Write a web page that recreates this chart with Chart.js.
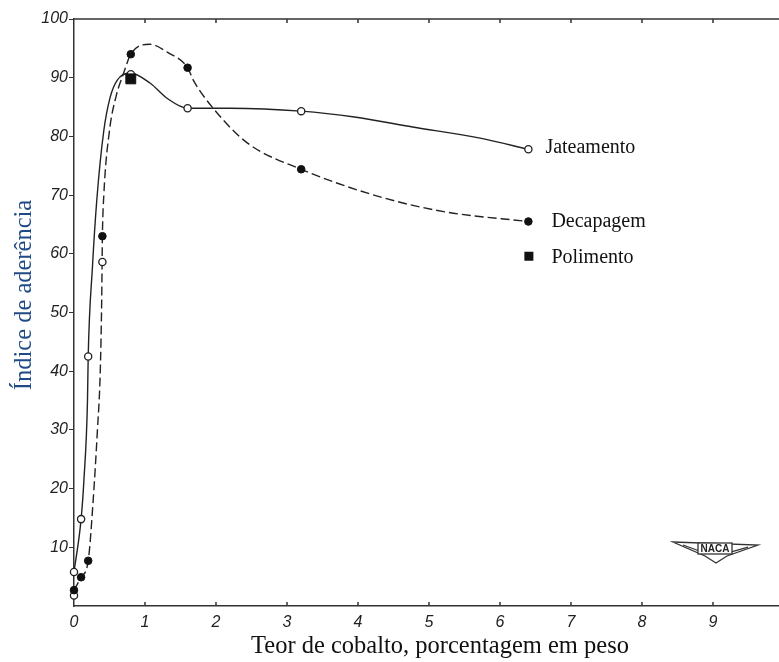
<!DOCTYPE html>
<html>
<head>
<meta charset="utf-8">
<script src="https://cdn.jsdelivr.net/npm/chart.js@4.4.1/dist/chart.umd.min.js"></script>
<style>
  html, body { margin: 0; padding: 0; background: #ffffff; }
  #wrap { width: 779px; height: 662px; position: relative; }
</style>
</head>
<body>
<div id="wrap"><canvas id="chart" width="779" height="662"></canvas></div>
<script>
// Measured points (cobalt %, adherence index)
const jatX = [0, 0, 0.1, 0.2, 0.4, 0.8, 1.6, 3.2, 6.4];
const jatY = [1.8, 5.8, 14.8, 42.5, 58.6, 90.6, 84.8, 84.3, 77.8];
const decX = [0, 0.1, 0.2, 0.4, 0.8, 1.6, 3.2, 6.4];
const decY = [2.7, 4.9, 7.7, 63, 94, 91.7, 74.4, 65.5];
const polX = [0.8];
const polY = [89.8];

// Faired curves
const jatCurveX = [0, 0.1, 0.14, 0.19, 0.2, 0.26, 0.32, 0.42, 0.51, 0.61, 0.79, 1.07, 1.31, 1.6, 2.2, 3.2, 3.95, 4.77, 5.72, 6.4];
const jatCurveY = [5.8, 14.8, 21.5, 35, 42.5, 57.8, 69, 81, 86.7, 89.6, 90.8, 89.1, 86.5, 84.8, 84.8, 84.3, 83.3, 81.6, 79.7, 77.8];
const decCurveX = [0, 0.1, 0.2, 0.27, 0.33, 0.37, 0.39, 0.4, 0.42, 0.5, 0.59, 0.7, 0.8, 1.07, 1.32, 1.6, 1.68, 1.96, 2.44, 3.2, 4.31, 5.25, 6.4];
const decCurveY = [2.7, 4.9, 7.7, 18, 30, 40, 52, 63, 70, 81, 86.7, 90.8, 94, 95.7, 94.3, 91.7, 89.6, 84.8, 78.9, 74.4, 69.7, 67.1, 65.5];

// Axis ticks and labels
const xTickValues = [0, 1, 2, 3, 4, 5, 6, 7, 8, 9];
const yTickValues = [10, 20, 30, 40, 50, 60, 70, 80, 90, 100];
const xTitle = 'Teor de cobalto, porcentagem em peso';
const yTitle = 'Índice de aderência';
const legendNames = ['Jateamento', 'Decapagem', 'Polimento'];

const ink = '#222222';
const toPts = (xs, ys) => xs.map((x, i) => ({ x: x, y: ys[i] }));

const decor = {
    id: 'decor',
    afterDraw(chart) {
        const ctx = chart.ctx;
        const area = chart.chartArea;
        const xs = chart.scales.x;
        const ys = chart.scales.y;
        ctx.save();

        // top frame line with inward ticks, inward ticks on bottom axis
        ctx.strokeStyle = '#333333';
        ctx.lineWidth = 1.5;
        ctx.beginPath();
        ctx.moveTo(area.left, area.top);
        ctx.lineTo(area.right, area.top);
        for (let v = 1; v <= 9; v++) {
            const px = xs.getPixelForValue(v);
            ctx.moveTo(px, area.top);
            ctx.lineTo(px, area.top + 4);
            ctx.moveTo(px, area.bottom);
            ctx.lineTo(px, area.bottom - 4);
        }
        ctx.stroke();

        // axis titles
        ctx.fillStyle = '#111111';
        ctx.font = '24.5px "Liberation Serif"';
        ctx.textAlign = 'center';
        ctx.textBaseline = 'middle';
        ctx.fillText(xTitle, 440, 647);

        ctx.save();
        ctx.translate(25, 295);
        ctx.rotate(-Math.PI / 2);
        ctx.fillStyle = '#1f4a86';
        ctx.fillText(yTitle, 0, 0);
        ctx.restore();

        // in-plot legend
        ctx.fillStyle = '#111111';
        ctx.font = '20px "Liberation Serif"';
        ctx.textAlign = 'left';
        const jx = xs.getPixelForValue(jatX[jatX.length - 1]);
        const jy = ys.getPixelForValue(jatY[jatY.length - 1]);
        ctx.fillText(legendNames[0], jx + 17, jy - 2);
        const dx = xs.getPixelForValue(decX[decX.length - 1]);
        const dy = ys.getPixelForValue(decY[decY.length - 1]);
        ctx.fillText(legendNames[1], dx + 23, dy);
        const py = ys.getPixelForValue(59.5);
        ctx.fillText(legendNames[2], dx + 23, py + 1);
        ctx.fillStyle = '#111111';
        ctx.fillRect(dx - 4, py - 5, 9, 9);

        // NACA wing emblem
        ctx.strokeStyle = '#333333';
        ctx.lineWidth = 1.3;
        ctx.beginPath();
        ctx.moveTo(673, 542);
        ctx.lineTo(758, 545);
        ctx.lineTo(727, 556);
        ctx.lineTo(716, 563);
        ctx.lineTo(705, 556);
        ctx.closePath();
        ctx.stroke();
        ctx.beginPath();
        ctx.moveTo(683, 545);
        ctx.lineTo(705, 553);
        ctx.moveTo(748, 547);
        ctx.lineTo(727, 553);
        ctx.stroke();
        ctx.fillStyle = '#ffffff';
        ctx.fillRect(698, 543, 34, 11);
        ctx.strokeRect(698, 543, 34, 11);
        ctx.fillStyle = '#222222';
        ctx.font = 'bold 10px "Liberation Sans"';
        ctx.textAlign = 'center';
        ctx.fillText('NACA', 715, 549);

        ctx.restore();
    }
};

new Chart(document.getElementById('chart'), {
    type: 'scatter',
    data: {
        datasets: [
            {
                label: 'Jateamento (curva)',
                data: toPts(jatCurveX, jatCurveY),
                showLine: true,
                borderColor: ink,
                borderWidth: 1.4,
                pointRadius: 0,
                cubicInterpolationMode: 'monotone',
                clip: false,
                order: 3
            },
            {
                label: 'Decapagem (curva)',
                data: toPts(decCurveX, decCurveY),
                showLine: true,
                borderColor: ink,
                borderWidth: 1.4,
                borderDash: [9, 4],
                pointRadius: 0,
                cubicInterpolationMode: 'monotone',
                clip: false,
                order: 3
            },
            {
                label: legendNames[0],
                data: toPts(jatX, jatY),
                pointStyle: 'circle',
                pointRadius: 3.6,
                backgroundColor: '#ffffff',
                borderColor: ink,
                borderWidth: 1.3,
                clip: false,
                order: 2
            },
            {
                label: legendNames[1],
                data: toPts(decX, decY),
                pointStyle: 'circle',
                pointRadius: 3.8,
                backgroundColor: '#111111',
                borderColor: '#111111',
                borderWidth: 1,
                clip: false,
                order: 1
            },
            {
                label: legendNames[2],
                data: toPts(polX, polY),
                pointStyle: 'rect',
                pointRadius: 7,
                backgroundColor: '#111111',
                borderColor: '#111111',
                borderWidth: 1,
                clip: false,
                order: 0
            }
        ]
    },
    options: {
        responsive: false,
        animation: false,
        layout: { autoPadding: false, padding: { top: 19, right: 0, left: 0, bottom: 0 } },
        plugins: {
            legend: { display: false },
            tooltip: { enabled: false }
        },
        scales: {
            x: {
                type: 'linear',
                min: 0,
                max: 9.93,
                afterFit: s => { s.height = 56; s.paddingLeft = 0; s.paddingRight = 0; },
                afterBuildTicks: s => { s.ticks = xTickValues.map(v => ({ value: v })); },
                grid: { display: true, drawOnChartArea: false, drawTicks: false, color: '#333333' },
                border: { display: true, color: '#333333', width: 1.5 },
                ticks: {
                    color: '#222222',
                    padding: 7,
                    font: { family: 'Liberation Sans', size: 16, style: 'italic' }
                }
            },
            y: {
                type: 'linear',
                min: 0,
                max: 100,
                afterFit: s => { s.width = 74; },
                afterBuildTicks: s => { s.ticks = yTickValues.map(v => ({ value: v })); },
                grid: { display: true, drawOnChartArea: false, drawTicks: true, tickLength: 5, color: '#333333' },
                border: { display: true, color: '#333333', width: 1.5 },
                ticks: {
                    color: '#222222',
                    padding: 1,
                    font: { family: 'Liberation Sans', size: 16, style: 'italic' }
                }
            }
        }
    },
    plugins: [decor]
});
</script>
</body>
</html>
